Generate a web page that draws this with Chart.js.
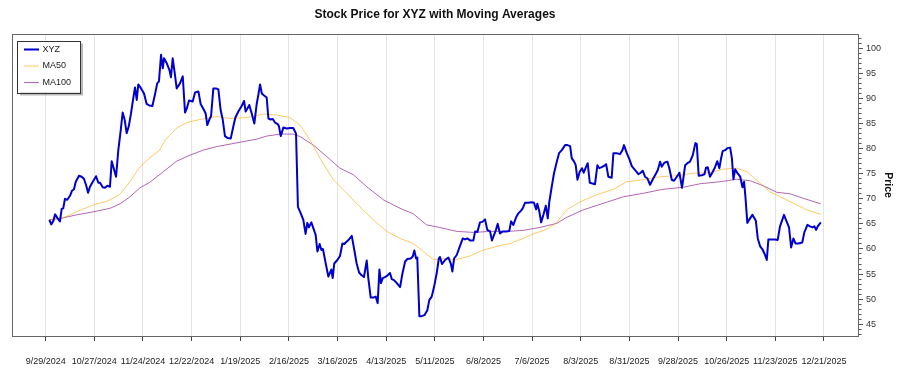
<!DOCTYPE html>
<html lang="en">
<head>
<meta charset="UTF-8">
<title>Stock Price for XYZ with Moving Averages</title>
<script src="https://cdn.jsdelivr.net/npm/chart.js"></script>
<style>
  body { margin: 0; background: #fff; }
  #wrap { width: 900px; height: 375px; }
</style>
</head>
<body>
<div id="wrap"><canvas id="stockChart"></canvas></div>
<script>
// days counted from 9/29/2024
const startDate = Date.UTC(2024, 8, 29);

const tickLabels = ['9/29/2024','10/27/2024','11/24/2024','12/22/2024','1/19/2025','2/16/2025','3/16/2025',
  '4/13/2025','5/11/2025','6/8/2025','7/6/2025','8/3/2025','8/31/2025','9/28/2025','10/26/2025','11/23/2025','12/21/2025'];

const xyzDays = [
  2.1,3.2,4.4,5.4,6.7,8.2,9.2,10.1,11.1,12.4,
  14.0,15.1,16.3,17.3,19.2,20.7,22.0,23.2,24.4,25.5,
  27.1,29.0,30.3,31.3,32.8,34.1,35.5,37.0,38.0,38.9,
  40.5,41.8,43.2,44.3,45.5,46.6,47.8,49.1,50.4,51.4,
  52.4,53.3,54.9,56.6,58.1,59.6,61.4,62.9,64.2,65.2,
  66.4,67.4,68.1,69.7,71.2,72.1,73.1,74.3,75.4,77.3,
  78.9,80.2,81.2,82.5,84.6,86.0,87.9,89.2,91.1,92.1,
  93.0,94.2,95.2,96.5,98.0,99.4,100.7,101.9,103.2,104.8,
  106.5,108.0,109.2,110.9,112.8,114.2,115.1,116.1,117.2,118.6,
  120.1,121.5,122.4,123.4,124.4,125.7,127.2,128.2,129.5,130.7,
  132.0,133.6,134.3,135.3,136.8,138.7,140.6,142.5,144.1,145.2,
  146.7,148.3,149.6,150.6,151.5,152.9,154.4,155.4,156.4,157.7,
  158.7,159.6,161.2,162.7,164.4,165.2,166.1,167.9,169.4,170.8,
  171.9,173.3,174.6,176.2,177.7,179.0,180.4,181.7,183.2,184.8,
  185.7,187.1,188.6,190.0,191.1,192.1,193.0,194.0,195.3,196.7,
  198.2,199.2,200.5,202.1,204.0,205.3,206.9,208.2,210.1,211.3,
  212.2,213.2,213.9,215.1,216.5,218.0,219.7,220.8,222.2,223.6,
  225.1,226.3,227.0,228.1,229.9,231.8,233.2,234.1,235.1,236.6,
  238.5,240.1,241.4,242.7,244.3,246.2,247.2,248.5,250.0,251.4,
  252.9,254.2,255.8,256.9,258.1,259.2,260.2,261.5,263.1,265.0,
  266.9,267.9,269.2,270.8,272.1,273.5,274.6,275.9,277.8,279.8,
  281.1,282.3,283.0,284.2,285.2,286.5,287.9,289.0,289.9,291.3,
  292.6,294.2,295.5,297.1,299.0,300.3,301.9,302.8,304.2,305.1,
  306.1,307.4,308.7,309.7,311.1,312.0,313.2,314.3,316.2,317.6,
  318.7,320.1,321.6,322.6,323.9,325.8,326.8,328.7,330.6,332.0,
  332.9,334.5,336.0,337.4,339.3,341.2,342.5,343.7,345.0,346.3,
  347.9,349.5,351.4,352.3,353.7,354.6,356.1,357.9,359.0,360.4,
  361.7,363.3,364.8,366.3,368.1,369.4,370.9,372.5,374.0,374.8,
  375.9,377.7,379.2,380.1,381.1,382.4,384.0,385.3,386.6,387.8,
  388.8,389.7,391.1,392.4,394.0,395.0,395.9,396.9,398.2,399.8,
  401.1,402.0,402.8,403.9,405.1,406.8,408.8,409.9,411.3,412.8,
  414.1,415.1,416.0,418.0,419.9,421.4,422.7,425.0,426.6,427.9,
  429.1,430.4,431.6,433.3,435.5,436.7,438.5,440.0,441.4,442.5,
  443.5,444.4,446.2
];
const xyzPrice = [
  65.8,64.9,65.6,66.9,66.2,65.5,68.0,68.1,70.0,69.8,
  70.6,71.6,71.9,73.4,74.6,74.4,74.0,72.8,71.2,72.4,
  73.4,74.5,73.2,73.2,72.3,72.2,72.6,72.4,77.5,76.4,
  74.4,79.7,83.7,87.2,85.7,83.1,84.4,87.0,90.0,92.2,
  89.7,92.8,92.0,91.0,88.9,88.6,88.5,90.8,93.0,93.4,
  98.7,96.0,98.0,97.0,95.7,94.2,98.0,95.0,92.0,93.0,
  94.4,87.2,88.0,89.6,89.4,91.2,91.4,88.9,87.7,87.0,
  84.7,85.8,86.5,92.0,92.0,91.8,87.7,85.8,82.5,82.1,
  82.0,84.4,86.2,87.4,88.5,89.5,87.4,88.0,88.7,87.0,
  85.0,89.0,90.7,92.8,91.0,90.6,90.2,86.0,85.8,85.9,
  85.2,84.9,84.4,82.5,84.2,84.0,84.1,84.1,83.0,68.4,
  67.2,65.8,63.0,65.2,64.3,65.3,63.8,62.8,59.5,61.0,
  59.8,60.0,57.1,54.5,55.9,54.2,57.1,57.8,58.6,61.1,
  61.0,61.5,61.9,62.6,59.7,57.1,55.3,54.8,54.4,57.7,
  54.2,50.3,50.3,50.5,49.2,55.9,53.2,54.2,54.4,54.7,
  55.2,54.0,53.8,53.2,52.4,55.0,57.5,58.0,58.1,58.5,
  59.7,58.1,58.3,46.6,46.6,46.8,47.8,49.8,50.5,52.5,
  55.2,58.1,58.4,57.0,57.8,58.3,57.1,55.5,58.1,58.8,
  60.6,62.1,61.9,62.1,61.7,61.7,63.5,63.4,65.3,65.4,
  65.9,63.8,63.5,61.7,62.8,63.8,65.0,63.1,63.5,63.5,
  63.6,65.5,64.8,66.3,67.1,67.6,68.1,69.2,69.2,69.3,
  69.2,67.9,69.0,67.4,65.3,66.8,68.6,66.1,69.4,72.4,
  75.1,77.4,79.1,79.7,80.7,80.7,80.5,78.1,77.4,76.7,
  73.8,75.4,76.1,75.2,76.4,77.1,73.2,73.1,72.9,76.7,
  76.1,76.3,76.6,76.9,74.4,74.2,79.1,79.1,78.9,79.7,
  80.7,79.1,77.9,76.5,75.7,74.9,75.2,75.6,74.4,74.1,
  72.8,73.9,75.1,75.7,77.4,76.4,77.2,77.4,76.1,73.8,
  73.6,74.4,75.2,72.2,76.7,77.1,77.4,78.7,81.1,80.9,
  74.6,74.7,74.9,76.2,76.3,74.4,75.4,76.3,77.5,76.1,
  78.1,79.5,79.7,80.1,80.2,78.1,73.9,75.9,75.1,74.4,
  72.3,73.4,70.4,65.2,65.9,66.8,65.6,62.1,60.5,59.8,
  58.8,57.8,61.9,61.9,61.9,61.8,64.5,66.8,65.4,64.3,
  60.3,62.1,61.1,61.1,61.3,63.3,64.8,64.5,64.3,64.5,
  63.8,64.5,65.3
];

const ma50Days = [2.1,10.1,17.8,27.4,36.0,42.8,48.5,54.3,60.0,65.4,68.7,75.4,81.2,88.8,98.4,106.1,
  115.7,125.3,133.0,140.6,146.4,152.2,157.9,165.6,173.3,180.9,188.6,196.3,204.0,211.6,217.4,223.1,
  228.9,236.6,244.3,251.9,259.6,267.3,274.9,280.7,288.4,294.2,299.9,307.6,317.2,326.8,334.5,344.0,
  353.7,363.3,372.8,382.4,390.1,397.8,403.6,411.3,417.0,422.8,430.4,438.1,446.2];
const ma50 = [65.8,66.2,67.4,68.8,69.6,70.9,73.4,76.4,78.2,79.6,81.7,84.1,85.2,85.8,86.4,86.0,
  86.2,86.9,86.7,86.2,84.7,81.7,78.1,73.8,71.1,68.4,65.8,63.5,62.1,61.1,59.5,57.9,
  58.1,57.9,58.6,59.8,60.5,61.1,62.1,63.0,63.9,65.3,67.8,69.4,70.8,71.9,73.4,73.8,
  74.4,74.6,75.1,75.2,75.9,76.1,75.4,73.1,71.4,70.4,69.1,67.8,66.9];

const ma100Days = [2.1,10.1,17.8,27.4,37.0,42.8,48.5,54.3,60.0,67.7,75.4,83.1,90.7,98.4,106.1,113.8,
  121.5,127.2,134.9,142.5,146.4,154.1,161.8,169.4,177.1,184.8,194.4,204.0,211.6,219.3,226.6,236.6,
  246.2,255.8,265.4,274.9,284.6,294.2,299.9,309.5,321.0,332.5,344.0,355.5,367.1,376.7,388.2,397.8,
  405.5,413.1,420.8,428.5,436.1,446.2];
const ma100 = [65.8,66.2,66.8,67.4,68.1,69.0,70.4,72.2,73.3,75.4,77.5,78.7,79.7,80.4,80.9,81.4,
  81.9,82.5,82.9,82.9,82.4,80.7,78.4,76.1,74.8,72.4,69.8,68.1,67.0,64.8,64.3,63.5,
  63.3,63.5,63.5,63.7,64.3,65.1,66.3,67.8,69.1,70.4,71.1,71.9,72.3,73.0,73.4,73.9,
  73.6,72.6,71.3,71.0,70.1,69.0];

const FONT = "'Liberation Sans', Arial, sans-serif";

function labelToDay(s) {
  const [m, d, y] = s.split('/').map(Number);
  return (Date.UTC(y, m - 1, d) - startDate) / 86400000;
}
const tickDays = tickLabels.map(labelToDay);

function pts(xs, ys) {
  return xs.map((x, i) => ({ x: x, y: ys[i] }));
}

// frame round the plot + boxed legend inside the top left corner
const frameAndLegend = {
  id: 'frameAndLegend',
  afterDraw(chart) {
    const { ctx, chartArea: a } = chart;
    ctx.save();
    ctx.strokeStyle = '#666';
    ctx.lineWidth = 1;
    ctx.strokeRect(Math.round(a.left) + 0.5, Math.round(a.top) + 0.5,
      Math.round(a.right - a.left), Math.round(a.bottom - a.top));

    const x = a.left + 5, y = a.top + 6.5, w = 63, h = 52;
    ctx.fillStyle = 'rgba(0,0,0,0.28)';
    ctx.fillRect(x + 3, y + 3, w, h);
    ctx.fillStyle = '#fff';
    ctx.fillRect(x, y, w, h);
    ctx.strokeStyle = '#333';
    ctx.strokeRect(Math.round(x) + 0.5, Math.round(y) + 0.5, w, h);

    ctx.font = '9px ' + FONT;
    ctx.textBaseline = 'middle';
    chart.data.datasets.forEach((ds, i) => {
      const cy = y + 9 + i * 16.5;
      ctx.strokeStyle = ds.borderColor;
      ctx.lineWidth = ds.borderWidth;
      ctx.beginPath();
      ctx.moveTo(x + 7, cy);
      ctx.lineTo(x + 22, cy);
      ctx.stroke();
      ctx.fillStyle = '#222';
      ctx.fillText(ds.label, x + 25.5, cy);
    });
    ctx.restore();
  }
};

Chart.defaults.font.family = FONT;
Chart.defaults.color = '#333';

new Chart('stockChart', {
  type: 'line',
  data: {
    datasets: [{
      label: 'XYZ',
      data: pts(xyzDays, xyzPrice),
      borderColor: '#0000CD',
      borderWidth: 2,
      borderJoinStyle: 'round',
      pointRadius: 0,
      tension: 0
    }, {
      label: 'MA50',
      data: pts(ma50Days, ma50),
      borderColor: 'rgba(255,165,0,0.6)',
      borderWidth: 1,
      pointRadius: 0,
      tension: 0
    }, {
      label: 'MA100',
      data: pts(ma100Days, ma100),
      borderColor: 'rgba(128,0,128,0.6)',
      borderWidth: 1,
      pointRadius: 0,
      tension: 0
    }]
  },
  options: {
    responsive: true,
    maintainAspectRatio: false,
    animation: false,
    layout: { padding: { left: 12, right: 0, top: 0, bottom: 0 } },
    plugins: {
      legend: { display: false },
      tooltip: { enabled: false },
      title: {
        display: true,
        text: 'Stock Price for XYZ with Moving Averages',
        fullSize: false,
        color: '#111',
        font: { size: 12, weight: 'bold' },
        padding: { top: 7.3, bottom: 12.3 }
      }
    },
    scales: {
      x: {
        type: 'linear',
        min: -19.4,
        max: 467.6,
        afterBuildTicks: (s) => { s.ticks = tickDays.map(v => ({ value: v })); },
        afterFit: (s) => { s.height = 39; },
        ticks: {
          autoSkip: false,
          maxRotation: 0,
          padding: 15,
          color: '#222',
          font: { size: 9 },
          callback: (v, i) => tickLabels[i]
        },
        grid: { color: '#e4e4e4', tickColor: '#444', tickLength: 5 },
        border: { color: '#666' }
      },
      y: {
        type: 'linear',
        position: 'right',
        min: 42.65,
        max: 102.85,
        afterFit: (s) => { s.width = 42; },
        ticks: {
          stepSize: 1,
          autoSkip: false,
          includeBounds: false,
          padding: 3,
          color: '#333',
          font: { size: 9 },
          callback: (v) => (v % 5 === 0 ? String(v) : '')
        },
        grid: {
          drawOnChartArea: false,
          tickLength: 5,
          tickColor: '#555',
          tickBorderDash: (c) => (c.tick && c.tick.value % 5 === 0 ? [] : [2.5, 20])
        },
        border: { color: '#666' },
        title: {
          display: true,
          text: 'Price',
          color: '#111',
          font: { size: 10.5, weight: 'bold' },
          padding: { top: 5.7, bottom: 0 }
        }
      }
    }
  },
  plugins: [frameAndLegend]
});
</script>
</body>
</html>
